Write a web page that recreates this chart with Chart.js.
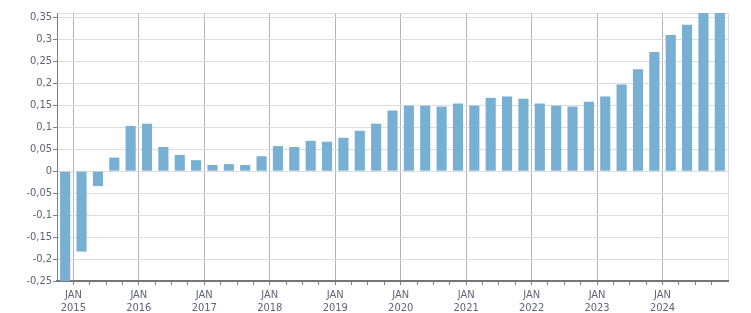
<!DOCTYPE html>
<html>
<head>
<meta charset="utf-8">
<script src="https://cdn.jsdelivr.net/npm/chart.js@4.4.1/dist/chart.umd.min.js"></script>
<style>
  html, body { margin: 0; padding: 0; background: #fff; }
  #wrap { width: 751px; height: 313px; }
</style>
</head>
<body>
<div id="wrap"><canvas id="c" width="751" height="313"></canvas></div>
<script>
  // quarterly values, Q4 2014 .. Q4 2024
  var values = [
    -0.26, -0.183, -0.034, 0.031, 0.103, 0.108, 0.055, 0.037, 0.025,
    0.014, 0.016, 0.014, 0.034, 0.057, 0.055, 0.069, 0.067, 0.076,
    0.092, 0.108, 0.138, 0.149, 0.149, 0.147, 0.154, 0.149, 0.167,
    0.170, 0.165, 0.154, 0.149, 0.147, 0.158, 0.170, 0.197, 0.232,
    0.271, 0.310, 0.333, 0.37, 0.38
  ];
  var years = ['2015', '2016', '2017', '2018', '2019', '2020', '2021', '2022', '2023', '2024'];
  var monthLabel = 'JAN';
  var yTicks = [-0.25, -0.2, -0.15, -0.1, -0.05, 0, 0.05, 0.1, 0.15, 0.2, 0.25, 0.3, 0.35];
  var yMin = -0.25, yMax = 0.36;

  // x axis counts quarters: 0 = Oct 2014, 1 = Jan 2015, ... 41 = Jan 2025
  var points = [];
  for (var i = 0; i < values.length; i++) {
    points.push({ x: i + 0.5, y: values[i] });
  }
  var xMax = values.length;

  var font = { family: "'DejaVu Sans Condensed', 'Liberation Sans', sans-serif", size: 11, lineHeight: 1.15 };
  var textColor = '#616178';

  function fmt(v) {
    var s = (Math.round(v * 100) / 100).toString();
    return s.replace('.', ',');
  }

  new Chart(document.getElementById('c'), {
    type: 'bar',
    data: {
      datasets: [{
        data: points,
        backgroundColor: '#77b0d2',
        borderColor: '#77b0d2',
        borderWidth: 0,
        barPercentage: 0.62,
        categoryPercentage: 1
      }]
    },
    options: {
      responsive: false,
      animation: false,
      devicePixelRatio: 1,
      layout: { padding: { top: 13, right: 23, left: 0, bottom: 0 } },
      plugins: { legend: { display: false }, tooltip: { enabled: false } },
      scales: {
        x: {
          type: 'linear',
          min: 0,
          max: xMax,
          offset: false,
          afterFit: function(scale) { scale.height = 32; },
          grid: {
            offset: false,
            drawTicks: true,
            tickLength: 4,
            lineWidth: 1,
            color: function(ctx) {
              var v = ctx.tick ? ctx.tick.value : -1;
              if (v === xMax) return '#dcdcdc';
              if (v >= 1 && (v - 1) % 4 === 0) return '#b4b4b4';
              return 'rgba(0,0,0,0)';
            },
            tickColor: function(ctx) {
              var v = ctx.tick ? ctx.tick.value : -1;
              if (v === xMax || v === 0) return 'rgba(0,0,0,0)';
              return '#808080';
            }
          },
          border: { display: true, color: '#777777', width: 2 },
          ticks: {
            stepSize: 1,
            autoSkip: false,
            maxRotation: 0,
            minRotation: 0,
            padding: 4,
            color: textColor,
            font: font,
            callback: function(v) {
              if (v >= 1 && (v - 1) % 4 === 0) {
                var y = years[(v - 1) / 4];
                if (y) return [monthLabel, y];
              }
              return '';
            }
          }
        },
        y: {
          min: yMin,
          max: yMax,
          afterFit: function(scale) { scale.width = 57; },
          afterBuildTicks: function(scale) {
            scale.ticks = yTicks.map(function(v) { return { value: v }; }).concat([{ value: yMax }]);
          },
          grid: {
            color: '#dcdcdc',
            lineWidth: 1,
            drawTicks: true,
            tickLength: 4,
            tickColor: function(ctx) {
              var v = ctx.tick ? ctx.tick.value : 0;
              return v === yMax ? 'rgba(0,0,0,0)' : '#808080';
            }
          },
          border: { display: true, color: '#808080', width: 1 },
          ticks: {
            padding: 1,
            color: textColor,
            font: font,
            callback: function(v) {
              if (v === yMax) return '';
              return fmt(v);
            }
          }
        }
      }
    }
  });
</script>
</body>
</html>
